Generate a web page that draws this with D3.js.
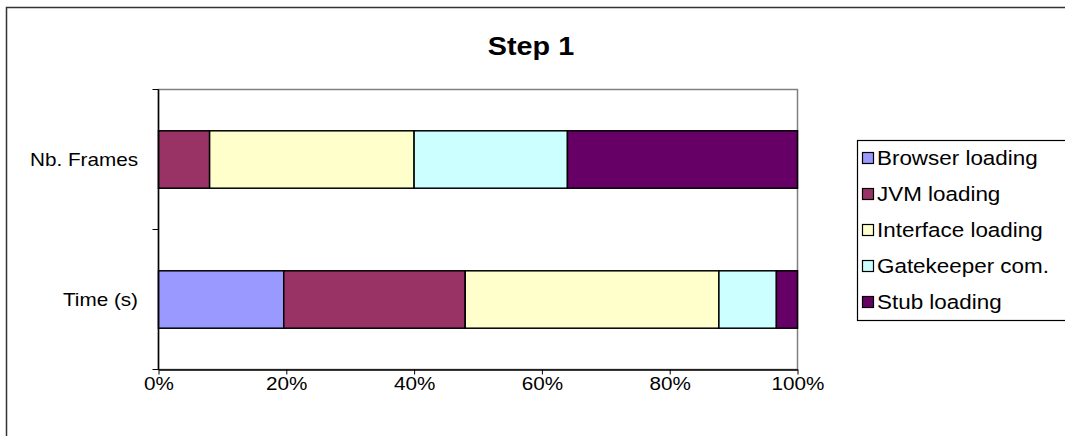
<!DOCTYPE html>
<html>
<head>
<meta charset="utf-8">
<script src="https://cdn.jsdelivr.net/npm/d3@7"></script>
<style>
  html, body { margin: 0; padding: 0; background: #fff; }
  svg { display: block; font-family: "Liberation Sans", Arial, sans-serif; }
</style>
</head>
<body>
<svg id="chart" width="1065" height="436"></svg>
<script>
// Categories, top to bottom as drawn
const categories = ["Nb. Frames", "Time (s)"];
const seriesNames = ["Browser loading", "JVM loading", "Interface loading", "Gatekeeper com.", "Stub loading"];
const seriesColors = ["#9999FF", "#993366", "#FFFFCC", "#CCFFFF", "#660066"];
// Share of each phase (percent) per category
const nbFrames = [0, 8, 32, 24, 36];
const timeSec = [19.6, 28.4, 39.7, 9.0, 3.3];
const xTickLabels = ["0%", "20%", "40%", "60%", "80%", "100%"];
const xTickValues = [0, 0.2, 0.4, 0.6, 0.8, 1];

// Text in this chart is drawn slightly wide
const TEXT_STRETCH = 1.15;
const FONT = 18;
const LEGEND_FONT = 19.5;

const rows = [nbFrames, timeSec].map((vals, i) => {
  const r = { category: categories[i] };
  seriesNames.forEach((s, j) => r[s] = vals[j]);
  return r;
});

const stack = d3.stack().keys(seriesNames).offset(d3.stackOffsetExpand);
const layers = stack(rows);

const svg = d3.select("#chart");
const plot = { left: 158.5, right: 797.5, top: 89.5, bottom: 369.5 };

function wideText(sel, x, y) {
  return sel.attr("x", 0).attr("y", 0)
    .attr("transform", (d, i) => `translate(${typeof x === "function" ? x(d, i) : x},${typeof y === "function" ? y(d, i) : y}) scale(${TEXT_STRETCH},1)`);
}

// Outer chart frame (runs past the right and bottom edges)
svg.append("rect")
  .attr("x", 6.5).attr("y", 7.5).attr("width", 1080).attr("height", 450)
  .attr("fill", "none").attr("stroke", "#333").attr("stroke-width", 1.5);

wideText(svg.append("text"), 531, 55)
  .attr("text-anchor", "middle")
  .attr("font-size", 25).attr("font-weight", "bold")
  .text("Step 1");

const x = d3.scaleLinear().domain([0, 1]).range([plot.left, plot.right]);
const y = d3.scaleBand().domain(categories).range([plot.top, plot.bottom]).padding(0);
const barH = y.bandwidth() * 0.41;

// Plot area frame
svg.append("rect")
  .attr("x", plot.left).attr("y", plot.top)
  .attr("width", plot.right - plot.left).attr("height", plot.bottom - plot.top)
  .attr("fill", "#fff").attr("stroke", "#808080").attr("stroke-width", 1.5);

// Stacked bars
const g = svg.append("g");
layers.forEach((layer, i) => {
  g.selectAll(null).data(layer.filter(d => d[1] > d[0]))
    .enter().append("rect")
    .attr("x", d => x(d[0]))
    .attr("width", d => x(d[1]) - x(d[0]))
    .attr("y", d => y(d.data.category) + (y.bandwidth() - barH) / 2)
    .attr("height", barH)
    .attr("fill", seriesColors[i])
    .attr("stroke", "#000").attr("stroke-width", 1.5);
});

// X axis
const xAxis = d3.axisBottom(x).tickValues(xTickValues)
  .tickFormat((d, i) => xTickLabels[i]).tickSize(5).tickSizeOuter(0);
const gx = svg.append("g").attr("transform", `translate(0,${plot.bottom})`).call(xAxis);
gx.select(".domain").attr("stroke", "#000").attr("stroke-width", 1.5);
gx.selectAll(".tick line").attr("stroke", "#000");
gx.selectAll(".tick text")
  .attr("font-size", FONT).attr("font-family", "Liberation Sans, Arial, sans-serif")
  .attr("fill", "#000").attr("dy", null)
  .attr("transform", `translate(0,20) scale(${TEXT_STRETCH},1)`)
  .attr("y", 0);

// Y axis: ticks at category boundaries, labels centred on bands
const yAxisLine = svg.append("g");
yAxisLine.append("line")
  .attr("x1", plot.left).attr("x2", plot.left)
  .attr("y1", plot.top).attr("y2", plot.bottom)
  .attr("stroke", "#000").attr("stroke-width", 1.5);
const boundaries = [plot.top].concat(categories.map(c => y(c) + y.bandwidth()));
yAxisLine.selectAll(null).data(boundaries).enter().append("line")
  .attr("x1", plot.left - 6).attr("x2", plot.left)
  .attr("y1", d => d).attr("y2", d => d)
  .attr("stroke", "#000");
wideText(yAxisLine.selectAll(null).data(categories).enter().append("text"),
    138, d => y(d) + y.bandwidth() / 2)
  .attr("dy", "0.35em")
  .attr("text-anchor", "end")
  .attr("font-size", FONT)
  .text(d => d);

// Legend
const lg = svg.append("g");
lg.append("rect")
  .attr("x", 857.5).attr("y", 140.5).attr("width", 240).attr("height", 180)
  .attr("fill", "#fff").attr("stroke", "#000").attr("stroke-width", 1.2);
const items = lg.selectAll(null).data(seriesNames).enter().append("g")
  .attr("transform", (d, i) => `translate(0,${158 + i * 36})`);
items.append("rect")
  .attr("x", 862.5).attr("y", -5.5).attr("width", 11).attr("height", 11)
  .attr("fill", (d, i) => seriesColors[i])
  .attr("stroke", "#000").attr("stroke-width", 1.2);
wideText(items.append("text"), 877, 0)
  .attr("dy", "0.36em")
  .attr("font-size", LEGEND_FONT)
  .text(d => d);
</script>
</body>
</html>
